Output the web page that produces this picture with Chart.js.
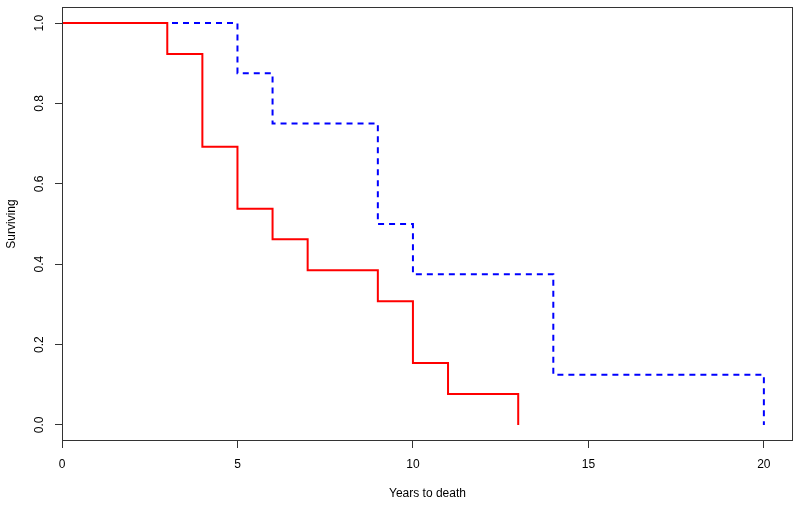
<!DOCTYPE html>
<html>
<head>
<meta charset="utf-8">
<script src="https://cdn.jsdelivr.net/npm/chart.js@4/dist/chart.umd.min.js"></script>
<style>
  html, body { margin: 0; padding: 0; background: #fff; }
  #wrap { width: 800px; height: 505px; }
</style>
</head>
<body>
<div id="wrap"><canvas id="survChart" width="800" height="505"></canvas></div>
<script>
// Kaplan-Meier steps
const redTimes = [0, 3, 4, 5, 6, 7, 9, 10, 11, 13];
const redSurv = [1, 0.923, 0.692, 0.538, 0.462, 0.385, 0.308, 0.154, 0.077, 0];
const blueTimes = [0, 5, 6, 9, 10, 14, 20];
const blueSurv = [1, 0.875, 0.75, 0.5, 0.375, 0.125, 0];

const xTicks = [0, 5, 10, 15, 20];
const yTicks = [0, 0.2, 0.4, 0.6, 0.8, 1.0];
const yTickLabels = ['0.0', '0.2', '0.4', '0.6', '0.8', '1.0'];
const xTitle = 'Years to death';
const yTitle = 'Surviving';

const FONT = '12px "Liberation Sans", Arial, Helvetica, sans-serif';

function toPoints(xs, ys) {
    return xs.map((x, i) => ({ x, y: ys[i] }));
}

// Box, tick labels and axis titles in R's base-graphics style
const rStyle = {
    id: 'rStyle',
    afterDraw(chart) {
        const { ctx, chartArea: a, scales } = chart;
        ctx.save();
        ctx.strokeStyle = '#333';
        ctx.lineWidth = 1;
        ctx.strokeRect(a.left + 0.5, a.top + 0.5, a.right - a.left - 1, a.bottom - a.top - 1);

        ctx.fillStyle = '#000';
        ctx.font = FONT;
        ctx.textAlign = 'center';
        ctx.textBaseline = 'middle';

        xTicks.forEach(v => {
            ctx.fillText(String(v), scales.x.getPixelForValue(v), 465);
        });
        ctx.fillText(xTitle, (a.left + a.right) / 2, 494);

        yTicks.forEach((v, i) => {
            ctx.save();
            ctx.translate(40, scales.y.getPixelForValue(v));
            ctx.rotate(-Math.PI / 2);
            ctx.fillText(yTickLabels[i], 0, 0);
            ctx.restore();
        });

        ctx.save();
        ctx.translate(12, (a.top + a.bottom) / 2);
        ctx.rotate(-Math.PI / 2);
        ctx.fillText(yTitle, 0, 0);
        ctx.restore();
        ctx.restore();
    }
};

new Chart(document.getElementById('survChart'), {
    type: 'line',
    data: {
        datasets: [{
            label: 'Group 1',
            data: toPoints(redTimes, redSurv),
            borderColor: '#ff0000',
            borderWidth: 2,
            stepped: true,
            pointRadius: 0,
            fill: false
        }, {
            label: 'Group 2',
            data: toPoints(blueTimes, blueSurv),
            borderColor: '#0000ff',
            borderWidth: 2,
            borderDash: [6, 5],
            stepped: true,
            pointRadius: 0,
            fill: false
        }]
    },
    options: {
        responsive: false,
        animation: false,
        layout: { padding: { top: 7, right: 7, left: 0, bottom: 0 } },
        plugins: {
            legend: { display: false },
            tooltip: { enabled: false }
        },
        scales: {
            x: {
                type: 'linear',
                min: 0,
                max: 20.83,
                afterBuildTicks: scale => { scale.ticks = xTicks.map(v => ({ value: v })); },
                afterFit: scale => { scale.height = 64; },
                ticks: { display: false },
                border: { display: false },
                grid: { drawOnChartArea: false, drawTicks: true, tickLength: 7, color: '#333', lineWidth: 1 }
            },
            y: {
                type: 'linear',
                min: -0.04,
                max: 1.04,
                afterBuildTicks: scale => { scale.ticks = yTicks.map(v => ({ value: v })); },
                afterFit: scale => { scale.width = 62; },
                ticks: { display: false },
                border: { display: false },
                grid: { drawOnChartArea: false, drawTicks: true, tickLength: 7, color: '#333', lineWidth: 1 }
            }
        }
    },
    plugins: [rStyle]
});
</script>
</body>
</html>
